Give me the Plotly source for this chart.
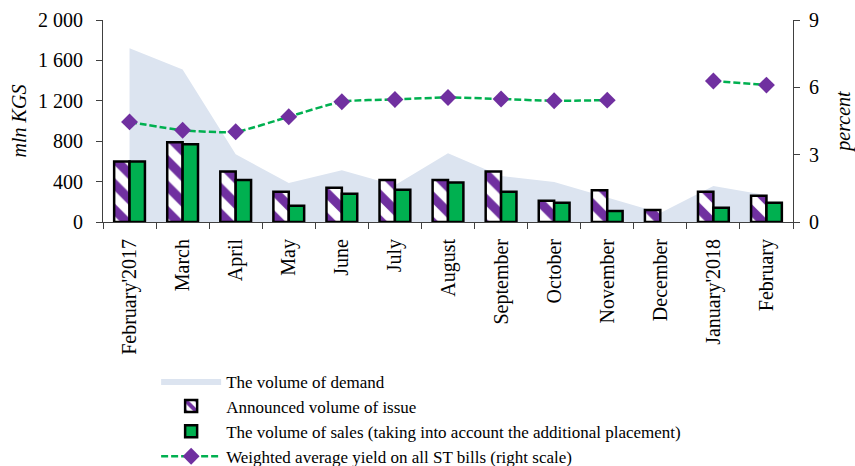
import plotly.graph_objects as go

months = ["February'2017", "March", "April", "May", "June", "July", "August",
          "September", "October", "November", "December", "January'2018", "February"]
demand = [1720, 1510, 670, 385, 513, 365, 680, 455, 396, 245, 90, 357, 265]
announced = [600, 790, 500, 300, 340, 415, 415, 500, 210, 315, 120, 300, 260]
sales = [600, 770, 415, 160, 280, 320, 390, 300, 190, 110, None, 140, 190]
yield_pct = [4.46, 4.09, 4.02, 4.69, 5.36, 5.46, 5.55, 5.48, 5.40, 5.43, None, 6.28, 6.10]

left_ticks = [0, 400, 800, 1200, 1600, 2000]
left_ticktext = ["0", "400", "800", "1 200", "1 600", "2 000"]
right_ticks = [0, 3, 6, 9]

FONT = "Liberation Serif, Times New Roman, serif"

fig = go.Figure()

fig.add_trace(go.Scatter(
    x=months, y=demand, name="The volume of demand",
    mode="lines", line=dict(width=0, color="#dce4f0"),
    fill="tozeroy", fillcolor="#dce4f0", xaxis="x", yaxis="y",
))
fig.add_trace(go.Bar(
    x=months, y=announced, name="Announced volume of issue",
    marker=dict(color="white", line=dict(color="black", width=2.5),
                pattern=dict(shape="\\", fgcolor="#7030a0", bgcolor="white",
                             fgopacity=1, size=18, solidity=0.5)),
    xaxis="x", yaxis="y2",
))
fig.add_trace(go.Bar(
    x=months, y=sales,
    name="The volume of sales (taking into account the additional placement)",
    marker=dict(color="#00b050", line=dict(color="black", width=2.5)),
    xaxis="x", yaxis="y2",
))
fig.add_trace(go.Scatter(
    x=months, y=yield_pct, name="Weighted average yield on all ST bills (right scale)",
    mode="lines+markers", connectgaps=False,
    line=dict(color="#00b050", width=2.5, dash="7px,3px", shape="spline", smoothing=0.6),
    marker=dict(symbol="diamond", size=13, color="#7030a0"),
    xaxis="x", yaxis="y3",
))

fig.update_layout(
    width=855, height=466,
    margin=dict(l=103, r=62, t=20, b=244, autoexpand=False),
    paper_bgcolor="white", plot_bgcolor="white",
    font=dict(family=FONT, size=20, color="black"),
    barmode="group", bargap=0.42, bargroupgap=0,
    showlegend=True,
    legend=dict(x=0.077, y=-0.70, xanchor="left", yanchor="top",
                font=dict(family=FONT, size=17), itemwidth=60,
                bgcolor="rgba(0,0,0,0)", tracegroupgap=0),
    xaxis=dict(type="category", range=[-0.5, 12.5], showline=True, linecolor="#404040",
               linewidth=1, ticks="outside", tickson="boundaries", ticklen=6,
               tickcolor="#404040", tickangle=-90, showgrid=False, automargin=False,
               ticklabelstandoff=8, tickfont=dict(size=20)),
    yaxis=dict(range=[0, 2000], tickvals=left_ticks, ticktext=left_ticktext,
               showline=True, linecolor="#404040", linewidth=1, ticks="outside",
               ticklen=6, tickcolor="#404040", showgrid=False, zeroline=False,
               automargin=False, ticklabelstandoff=9,
               title=dict(text="<i>mln KGS</i>", standoff=6, font=dict(size=20))),
    yaxis2=dict(range=[0, 2000], overlaying="y", side="left", showticklabels=False,
                showgrid=False, zeroline=False, showline=False, ticks=""),
    yaxis3=dict(range=[0, 9], tickvals=right_ticks, overlaying="y", side="right",
                showline=True, linecolor="#404040", linewidth=1, ticks="outside",
                ticklen=6, tickcolor="#404040", showgrid=False, zeroline=False,
                automargin=False, ticklabelstandoff=5,
                title=dict(text="<i>percent</i>", standoff=20, font=dict(size=20))),
)

fig.write_html("out.html")
